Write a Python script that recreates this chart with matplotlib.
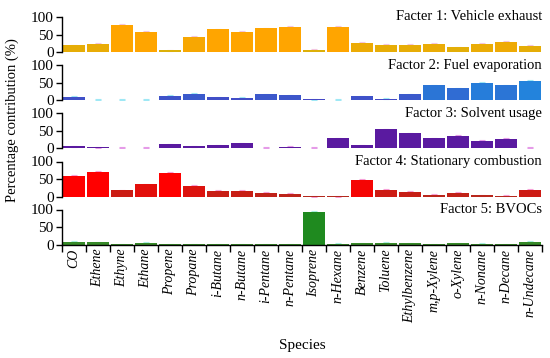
import matplotlib
matplotlib.use("Agg")
import matplotlib.pyplot as plt
import numpy as np
from matplotlib.colors import to_rgb

plt.rcParams['font.family'] = ['Liberation Serif', 'DejaVu Serif']

species = ["CO", "Ethene", "Ethyne", "Ethane", "Propene", "Propane", "i-Butane",
           "n-Butane", "i-Pentane", "n-Pentane", "Isoprene", "n-Hexane", "Benzene",
           "Toluene", "Ethylbenzene", "m,p-Xylene", "o-Xylene", "n-Nonane",
           "n-Decane", "n-Undecane"]

f1_vehicle = [19, 23, 78, 58, 5, 44, 65, 58, 68, 72, 6, 72, 27, 20, 20, 24, 14, 24, 30, 18]
f2_fuel = [9, 1, 1, 1, 12, 18, 8, 7, 16, 14, 1.5, 1, 11, 4, 17, 42, 34, 50, 42, 55]
f3_solvent = [5, 2, 1, 1, 11, 5, 8, 14, 1, 4, 1, 28, 8, 53, 42, 28, 35, 21, 26, 1]
f4_stationary = [59, 71, 18, 35, 68, 30, 16, 16, 10, 8, 1, 1, 48, 19, 14, 5, 11, 4, 2, 19]
f5_bvoc = [8, 6, 1, 5, 1, 1, 1, 1, 1, 1, 93, 2, 4, 5, 4, 1, 4, 2, 1, 8]

factor_titles = ["Facter 1: Vehicle exhaust", "Factor 2: Fuel evaporation",
                 "Factor 3: Solvent usage", "Factor 4: Stationary combustion",
                 "Factor 5: BVOCs"]
factor_values = [f1_vehicle, f2_fuel, f3_solvent, f4_stationary, f5_bvoc]

# (low-value colour, high-value colour, error colour)
palettes = [("#D9B10A", "#FFA500", "#F3C6E0"),
            ("#4646C4", "#2383DC", "#9FE8F5"),
            ("#5A1AA0", "#5A1AA0", "#E59BE8"),
            ("#B22A1E", "#FF0000", "#F7A0D8"),
            ("#3A8A2A", "#1F8A1F", "#A8F0E0")]

fig = plt.figure(figsize=(5.5, 3.58), dpi=100)
W, H = 550.0, 358.0
left_px, right_px = 62, 542
zero_px = [52, 100, 148, 196.5, 244.5]
height_px = 35

x = np.arange(len(species))
for i, (vals, title, pal) in enumerate(zip(factor_values, factor_titles, palettes)):
    ax = fig.add_axes([left_px / W, 1 - zero_px[i] / H, (right_px - left_px) / W, height_px / H])
    vals = np.array(vals, dtype=float)
    lo, hi = np.array(to_rgb(pal[0])), np.array(to_rgb(pal[1]))
    t = np.clip(vals / 55.0, 0, 1)[:, None]
    cols = lo * (1 - t) + hi * t
    ax.bar(x, vals, width=0.88, color=cols, zorder=2)
    ax.errorbar(x, vals, yerr=np.full(len(vals), 1.5), fmt='none', ecolor=pal[2],
                elinewidth=0.8, capsize=2.5, capthick=0.8, zorder=1)
    ax.set_xlim(-0.5, len(species) - 0.5)
    ax.set_ylim(0, 100)
    ax.set_yticks([0, 50, 100])
    ax.tick_params(axis='y', direction='out', length=4, width=1, labelsize=11, pad=2)
    for s in ['top', 'right']:
        ax.spines[s].set_visible(False)
    ax.spines['left'].set_linewidth(1)
    ax.text(1.0, 1.0, title, transform=ax.transAxes, ha='right', va='center', fontsize=10.5)
    if i < 4:
        ax.spines['bottom'].set_visible(False)
        ax.set_xticks([])
    else:
        ax.spines['bottom'].set_linewidth(1)
        ax.set_xticks(x)
        ax.set_xticklabels(species, rotation=90, fontstyle='italic', fontsize=10)
        ax.set_xticks(np.arange(-0.5, len(species)), minor=True)
        ax.tick_params(axis='x', which='major', length=0, pad=3)
        ax.tick_params(axis='x', which='minor', length=5, width=1, direction='out')

fig.text(12 / W, 1 - 120 / H, "Percentage contribution (%)", rotation=90,
         ha='center', va='center', fontsize=10.5)
fig.text((left_px + right_px) / 2 / W, 1 - 345 / H, "Species",
         ha='center', va='center', fontsize=11)

fig.savefig("out.png", dpi=100)
